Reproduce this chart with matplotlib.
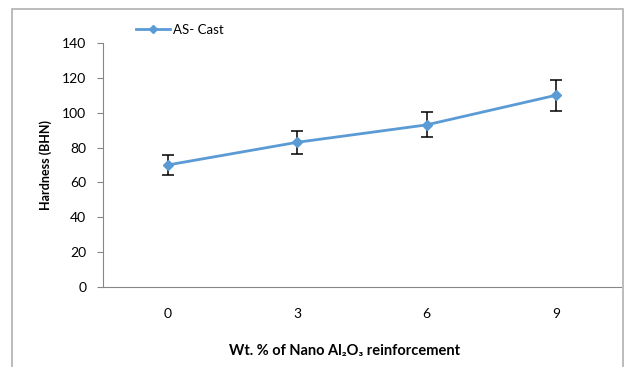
import matplotlib
matplotlib.use("Agg")
import matplotlib.pyplot as plt
from matplotlib.patches import Rectangle
from matplotlib.lines import Line2D
import numpy as np

plt.rcParams['font.family'] = ['Lato', 'DejaVu Sans']

# data
wt_labels = ['0', '3', '6', '9']
hardness = [70, 83, 93, 110]
hardness_err = [5.7, 6.6, 7.2, 8.9]

line_color = '#5B9BD5'

fig = plt.figure(figsize=(6.27, 3.67), dpi=100)
ax = fig.add_axes([0.1643, 0.218, 0.8257, 0.665])

x = np.arange(len(wt_labels))
ax.errorbar(x, hardness, yerr=hardness_err, color=line_color, lw=2,
            marker='D', ms=5, ecolor='black', elinewidth=1.1, capsize=4,
            capthick=1.1)

ax.set_xlim(-0.5, len(wt_labels) - 0.5)
ax.set_ylim(0, 140)
ax.set_yticks(range(0, 141, 20))
ax.set_xticks(x)
ax.set_xticklabels(wt_labels)
ax.tick_params(axis='y', length=4, color='#868686', labelsize=10, pad=8)
ax.tick_params(axis='x', length=0, labelsize=10, pad=15)
for side in ['top', 'right']:
    ax.spines[side].set_visible(False)
for side in ['left', 'bottom']:
    ax.spines[side].set_color('#868686')

ax.set_ylabel('Hardness (BHN)', fontsize=9, fontweight='bold')
ax.yaxis.set_label_coords(-0.098, 0.5)
ax.set_xlabel('Wt. % of Nano Al₂O₃ reinforcement', fontsize=10.5,
              fontweight='bold')
ax.xaxis.set_label_coords(0.467, -0.235)

handle = Line2D([], [], color=line_color, lw=2, marker='D', ms=4)
ax.legend([handle], ['AS- Cast'], loc='center left',
          bbox_to_anchor=(0.064, 1.053), frameon=False,
          fontsize=9.5, handlelength=2.6, handletextpad=0.2,
          borderaxespad=0, borderpad=0)

fig.patches.append(Rectangle((12 / 627, -0.05), 611 / 627, 1 - 9 / 367 + 0.05,
                             transform=fig.transFigure, fill=False,
                             edgecolor='#B0B0B0', lw=1.2))

fig.savefig('out.png', dpi=100)
